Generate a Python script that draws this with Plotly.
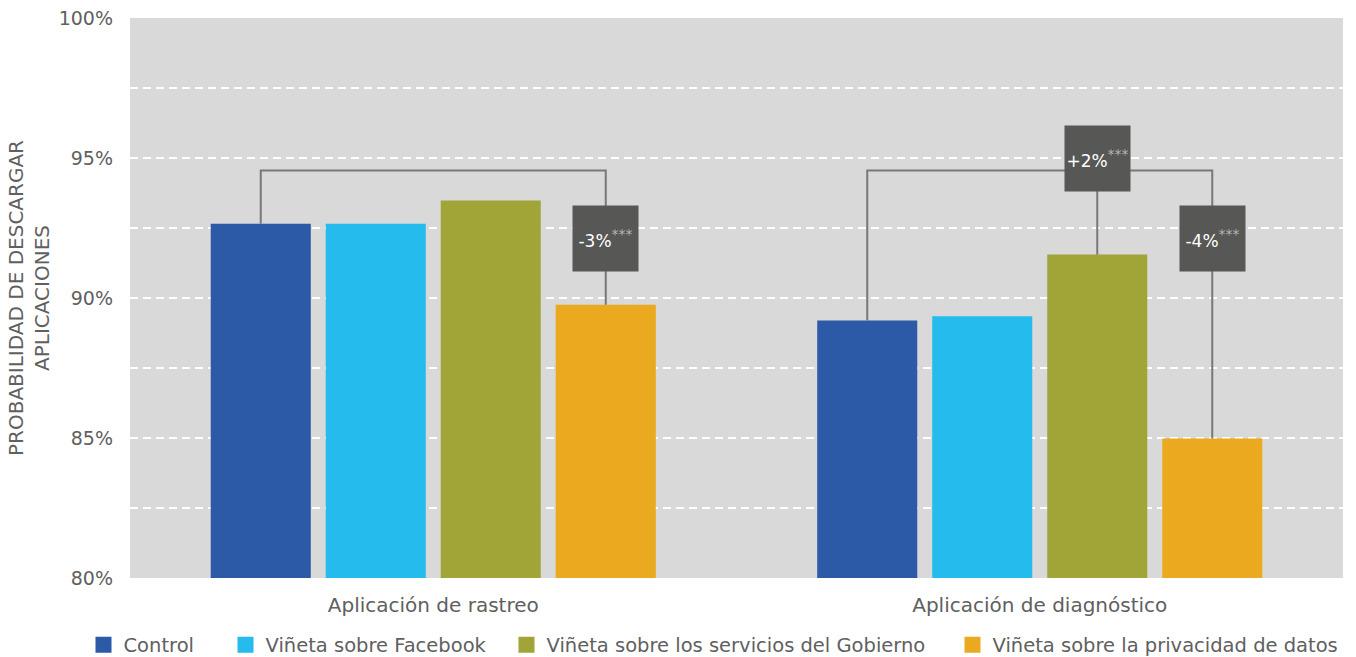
import plotly.graph_objects as go

categories = ["Aplicación de rastreo", "Aplicación de diagnóstico"]
series_names = ["Control", "Viñeta sobre Facebook",
                "Viñeta sobre los servicios del Gobierno",
                "Viñeta sobre la privacidad de datos"]
control = [92.65, 89.2]
facebook = [92.65, 89.35]
gobierno = [93.48, 91.55]
privacidad = [89.76, 84.98]
series_values = [control, facebook, gobierno, privacidad]
colors = ["#2C5AA6", "#25BBED", "#A1A437", "#EBA920"]

y_ticks = [80, 85, 90, 95, 100]
y_tick_labels = ["80%", "85%", "90%", "95%", "100%"]

# effect annotations: (category index, series index, label)
effects = [(0, 3, "-3%"), (1, 2, "+2%"), (1, 3, "-4%")]
bracket_level = 94.55

FONT = "DejaVu Sans"
TXT = "#606060"
BARGAP = 0.2415
GROUPGAP = 0.13
W, H = 1356, 657

fig = go.Figure()
legend_ids = ["legend", "legend2", "legend3", "legend4"]
for name, vals, col, lg in zip(series_names, series_values, colors, legend_ids):
    fig.add_trace(go.Bar(x=categories, y=vals, name=name, marker_color=col,
                         marker_line_width=0, showlegend=False, base=0))
    fig.add_trace(go.Scatter(x=[None], y=[None], mode="markers", name=name,
                             legend=lg,
                             marker=dict(symbol="square", size=17, color=col)))

slot = (1 - BARGAP) / len(series_names)


def bar_x(ci, si):
    return ci + (si - (len(series_names) - 1) / 2) * slot


line_style = dict(color="#787878", width=2)
for ci in range(len(categories)):
    x0 = bar_x(ci, 0)
    x3 = bar_x(ci, 3)
    path = (f"M {x0},{control[ci]} L {x0},{bracket_level} "
            f"L {x3},{bracket_level} L {x3},{privacidad[ci]}")
    fig.add_shape(type="path", path=path, xref="x", yref="y", line=line_style)

xg = bar_x(1, 2)
fig.add_shape(type="line", x0=xg, x1=xg, y0=bracket_level, y1=gobierno[1],
              xref="x", yref="y", line=line_style)

box_centers = {(0, 3): 92.12, (1, 2): 94.98, (1, 3): 92.12}
for ci, si, lab in effects:
    fig.add_annotation(
        x=bar_x(ci, si), y=box_centers[(ci, si)], xref="x", yref="y",
        text=(f"{lab}<sup><span style='font-size:14px;color:#b4b4b4'>"
              f"***</span></sup>"),
        showarrow=False, width=65, height=65, bgcolor="#575755",
        borderpad=0, font=dict(family=FONT, size=17, color="white"),
        align="center", valign="middle")

# legend square left edges (px) from the reference
legend_px = [95, 237, 518, 964]
legend_layout = {}
for lg, px in zip(legend_ids, legend_px):
    legend_layout[lg] = dict(
        orientation="h", xref="container", yref="container",
        x=(px + 8.5 - 20) / W, xanchor="left",
        y=(H - 645) / H, yanchor="middle",
        font=dict(size=19.5, color=TXT, family=FONT),
        itemwidth=30, bgcolor="rgba(0,0,0,0)")

fig.update_layout(
    width=W, height=H,
    margin=dict(l=130, r=13, t=18, b=79),
    paper_bgcolor="white", plot_bgcolor="#D9D9D9",
    barmode="group", bargap=BARGAP, bargroupgap=GROUPGAP,
    font=dict(family=FONT, color=TXT, size=20),
    xaxis=dict(showgrid=False, ticks="", tickfont=dict(size=20, color=TXT),
               ticklabelstandoff=13, automargin=False),
    yaxis=dict(range=[80, 100], tickvals=y_ticks, ticktext=y_tick_labels,
               showgrid=True, gridcolor="white", gridwidth=2,
               griddash="8px,5px", zeroline=False, ticks="",
               ticklabelstandoff=16, automargin=False,
               tickfont=dict(size=19, color=TXT),
               minor=dict(dtick=2.5, showgrid=True, gridcolor="white",
                          gridwidth=2, griddash="8px,5px"),
               title=dict(text="PROBABILIDAD DE DESCARGAR<br>APLICACIONES",
                          font=dict(size=20, color=TXT), standoff=3)),
    **legend_layout,
)

fig.write_html("out.html",
               config={"displayModeBar": False},
               post_script="document.body.style.margin='0';"
                           "document.body.style.overflow='hidden';")
